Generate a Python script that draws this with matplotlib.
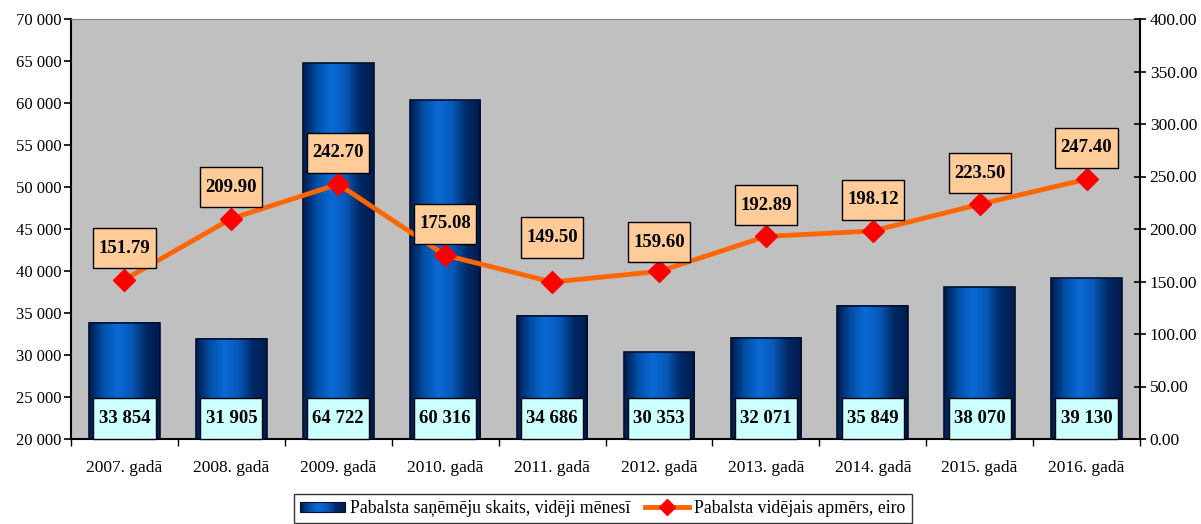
import numpy as np
import matplotlib
matplotlib.use("Agg")
import matplotlib.pyplot as plt
from matplotlib.colors import LinearSegmentedColormap
from matplotlib.lines import Line2D
from matplotlib.patches import Rectangle
from matplotlib.path import Path
from matplotlib.legend_handler import HandlerBase

plt.rcParams['font.family'] = ['Liberation Serif', 'DejaVu Serif']

years = ["2007. gadā", "2008. gadā", "2009. gadā", "2010. gadā", "2011. gadā",
         "2012. gadā", "2013. gadā", "2014. gadā", "2015. gadā", "2016. gadā"]
recipients = [33854, 31905, 64722, 60316, 34686, 30353, 32071, 35849, 38070, 39130]
avg_amount = [151.79, 209.90, 242.70, 175.08, 149.50, 159.60, 192.89, 198.12, 223.50, 247.40]
# vertical offsets (points) of line-label centres above their points
label_offsets = [22.5, 22.5, 22.5, 22.5, 32, 21, 22.5, 22.5, 22.5, 22.5]

bar_name = "Pabalsta saņēmēju skaits, vidēji mēnesī"
line_name = "Pabalsta vidējais apmērs, eiro"


def fmt_thousands(v):
    return f"{int(round(v)):,}".replace(",", " ")


def rect_box(x0, y0, width, height, mutation_size, padx=0.28, pady=0.62):
    px = padx * mutation_size
    py = pady * mutation_size
    x0, y0 = x0 - px, y0 - py
    x1, y1 = x0 + width + 2 * px, y0 + height + 2 * py
    return Path([(x0, y0), (x1, y0), (x1, y1), (x0, y1), (x0, y0)],
                [Path.MOVETO, Path.LINETO, Path.LINETO, Path.LINETO, Path.CLOSEPOLY])


cmap = LinearSegmentedColormap.from_list(
    "bluegrad", ["#001a4d", "#0050a8", "#0a6ad6", "#0858b8", "#002a66", "#001a4d"])

fig = plt.figure(figsize=(12.01, 5.24), dpi=100)
ax = fig.add_axes([71/1201, 85/524, (1140-71)/1201, (439-19)/524])
ax.set_facecolor("#C0C0C0")

x = np.arange(len(years))
width = 0.66
ymin, ymax = 20000, 70000
bars = ax.bar(x, np.array(recipients) - ymin, bottom=ymin, width=width,
              color="none", edgecolor="#001030", linewidth=1.2, zorder=3)
grad = np.linspace(0, 1, 256).reshape(1, -1)
for b in bars:
    bx, by = b.get_x(), b.get_y()
    bw, bh = b.get_width(), b.get_height()
    ax.imshow(grad, cmap=cmap, extent=[bx, bx + bw, by, by + bh],
              aspect="auto", zorder=2, interpolation="bilinear")

for xi, v in zip(x, recipients):
    ax.annotate(fmt_thousands(v), xy=(xi, ymin), xytext=(0, 14.8),
                textcoords="offset points", ha="center", va="center",
                fontsize=13.5, fontweight="bold", zorder=6,
                bbox=dict(boxstyle=rect_box, fc="#CCFFFF", ec="black", lw=1))

ax.set_xlim(-0.5, len(years) - 0.5)
ax.set_ylim(ymin, ymax)
ax.set_yticks(np.arange(20000, 70001, 5000))
ax.set_yticklabels([fmt_thousands(v) for v in np.arange(20000, 70001, 5000)], fontsize=12)
ax.set_xticks(x)
ax.set_xticklabels(years, fontsize=12.5)
ax.set_xticks(np.arange(-0.5, len(years), 1), minor=True)
ax.tick_params(axis="x", which="major", length=0, pad=15)
ax.tick_params(axis="x", which="minor", length=5, direction="out", width=1)
ax.tick_params(axis="y", length=5, direction="out", width=1.2, pad=2)
for s in ["left", "bottom"]:
    ax.spines[s].set_color("black")
    ax.spines[s].set_linewidth(1.5)
ax.spines["top"].set_color("#808080")
ax.spines["right"].set_visible(False)

ax2 = ax.twinx()
ax2.set_ylim(0, 400)
ax2.set_yticks(np.arange(0, 401, 50))
ax2.set_yticklabels([f"{v:.2f}" for v in np.arange(0, 401, 50)], fontsize=12.5)
ax2.tick_params(axis="y", length=8, direction="inout", width=1.2, pad=3)
ax2.spines["right"].set_color("black")
ax2.spines["right"].set_linewidth(1.5)
for s in ["top", "left", "bottom"]:
    ax2.spines[s].set_visible(False)
ax2.plot(x, avg_amount, color="#FF6600", lw=3.5, marker="D", markersize=11,
         markerfacecolor="#FF0000", markeredgecolor="#FF0000", zorder=5)
for xi, v, off in zip(x, avg_amount, label_offsets):
    ax2.annotate(f"{v:.2f}", xy=(xi, v), xytext=(0, off), textcoords="offset points",
                 ha="center", va="center", fontsize=13.5, fontweight="bold", zorder=6,
                 bbox=dict(boxstyle=rect_box, fc="#FFCC99", ec="black", lw=1))


class GradHandler(HandlerBase):
    def create_artists(self, legend, orig_handle, xdescent, ydescent, width, height, fontsize, trans):
        arts = []
        n = 24
        h = height * 0.8
        y0 = -ydescent + (height - h) / 2
        for i in range(n):
            c = cmap((i + 0.5) / n)
            r = Rectangle((-xdescent + width * i / n, y0), width / n, h,
                          facecolor=c, edgecolor="none", transform=trans)
            arts.append(r)
        border = Rectangle((-xdescent, y0), width, h, facecolor="none",
                           edgecolor="#001030", lw=0.8, transform=trans)
        arts.append(border)
        return arts


bar_handle = Rectangle((0, 0), 1, 1)
line_handle = Line2D([], [], color="#FF6600", lw=3.5, marker="D", markersize=8,
                     markerfacecolor="#FF0000", markeredgecolor="#FF0000")
leg = fig.legend([bar_handle, line_handle], [bar_name, line_name],
                 handler_map={Rectangle: GradHandler()},
                 loc="lower center", bbox_to_anchor=(603/1201, -0.016), ncol=2,
                 fontsize=12.8, frameon=True, fancybox=False, edgecolor="black",
                 handlelength=2.5, handletextpad=0.3, columnspacing=0.8,
                 borderpad=0.35)
leg.get_frame().set_linewidth(1)

fig.savefig("out.png", dpi=100)
